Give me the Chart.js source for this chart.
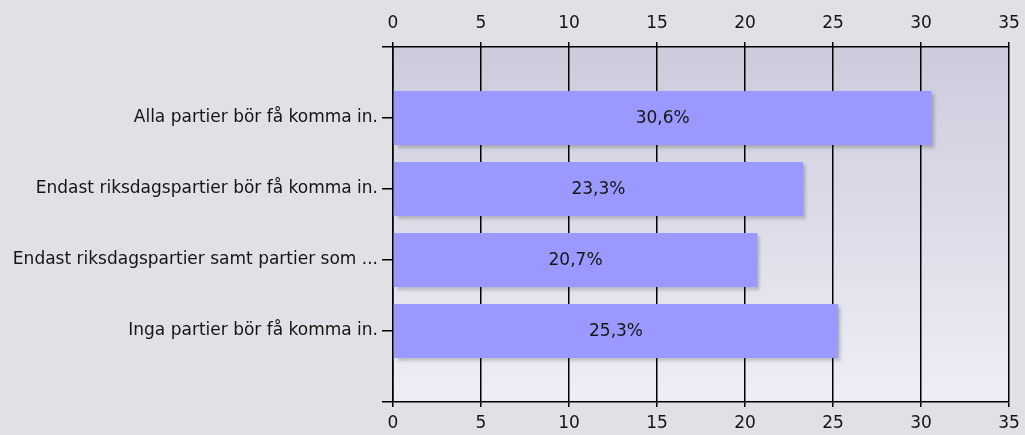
<!DOCTYPE html>
<html>
<head>
<meta charset="utf-8">
<script src="https://cdn.jsdelivr.net/npm/chart.js@4/dist/chart.umd.min.js"></script>
<style>
  html, body { margin: 0; padding: 0; background: #e0e0e5; }
  #wrap { width: 1025px; height: 435px; }
</style>
</head>
<body>
<div id="wrap"><canvas id="theChart"></canvas></div>
<script>
// answers, empty first/last slots give the gap above and below the bars
var labels = ['', 'Alla partier bör få komma in.', 'Endast riksdagspartier bör få komma in.', 'Endast riksdagspartier samt partier som ...', 'Inga partier bör få komma in.', ''];
var theData = [null, 30.6, 23.3, 20.7, 25.3, null];
var percentText = ['', '30,6%', '23,3%', '20,7%', '25,3%', ''];
var xTicks = [0, 5, 10, 15, 20, 25, 30, 35];

var fontFam = 'DejaVu Sans';
var fontSize = 17;
Chart.defaults.font.family = fontFam;
Chart.defaults.font.size = fontSize;
Chart.defaults.color = '#151515';

// gradient behind the bars
var plotBg = {
  id: 'plotBg',
  beforeDraw: function(chart) {
    var a = chart.chartArea, ctx = chart.ctx;
    var g = ctx.createLinearGradient(0, a.top, 0, a.bottom);
    g.addColorStop(0, '#cbcbdc');
    g.addColorStop(1, '#eeeef6');
    ctx.save();
    ctx.fillStyle = g;
    ctx.fillRect(a.left, a.top, a.right - a.left, a.bottom - a.top);
    ctx.restore();
  }
};

// drop shadow on bars + percent text in the middle
var barExtras = {
  id: 'barExtras',
  beforeDatasetDraw: function(chart) {
    var ctx = chart.ctx;
    ctx.save();
    ctx.shadowColor = 'rgba(0,0,0,0.2)';
    ctx.shadowOffsetX = 3;
    ctx.shadowOffsetY = 3;
    ctx.shadowBlur = 3;
  },
  afterDatasetDraw: function(chart) {
    var ctx = chart.ctx;
    ctx.restore();
    var meta = chart.getDatasetMeta(0);
    ctx.save();
    ctx.font = fontSize + 'px "' + fontFam + '"';
    ctx.fillStyle = '#151515';
    ctx.textAlign = 'center';
    ctx.textBaseline = 'middle';
    meta.data.forEach(function(bar, i) {
      if (!percentText[i]) return;
      var cx = (bar.base + bar.x) / 2;
      ctx.fillText(percentText[i], cx, bar.y + 1);
    });
    ctx.restore();
  }
};

function tickCb(val) { return xTicks.indexOf(val) >= 0 ? String(val) : ''; }

// fixed sizes so the plot area lands where the original one is
function fitX(h) {
  return function(s) { s.height = h; s.paddingLeft = 0; s.paddingRight = 0; };
}

var ctx = document.getElementById('theChart').getContext('2d');
var myChart = new Chart(ctx, {
  type: 'bar',
  data: {
    labels: labels,
    datasets: [{
      data: theData,
      backgroundColor: '#9999ff',
      borderWidth: 0,
      barPercentage: 0.76,
      categoryPercentage: 1
    }]
  },
  plugins: [plotBg, barExtras],
  options: {
    indexAxis: 'y',
    responsive: true,
    maintainAspectRatio: false,
    animation: false,
    layout: { padding: { left: 0, right: 16, top: 0, bottom: 0 } },
    plugins: { legend: { display: false }, tooltip: { enabled: false } },
    scales: {
      x: {
        position: 'bottom',
        min: 0, max: 35,
        ticks: { stepSize: 5, padding: 6, callback: tickCb },
        grid: { color: '#000', lineWidth: 1.5, tickLength: 5, drawOnChartArea: true },
        border: { color: '#000', width: 1.5 },
        afterFit: fitX(33)
      },
      x2: {
        position: 'top',
        axis: 'x',
        min: 0, max: 35,
        ticks: { stepSize: 5, padding: 8, callback: tickCb },
        grid: { color: '#000', lineWidth: 1.5, tickLength: 5, drawOnChartArea: false },
        border: { color: '#000', width: 1.5 },
        afterFit: fitX(47)
      },
      y: {
        offset: false,
        ticks: { padding: 4, autoSkip: false },
        grid: { offset: false, drawOnChartArea: false, color: '#000', lineWidth: 1.5, tickLength: 11 },
        border: { color: '#000', width: 1.5 },
        afterFit: function(s) { s.width = 393; s.paddingTop = 0; s.paddingBottom = 0; }
      }
    }
  }
});
</script>
</body>
</html>
